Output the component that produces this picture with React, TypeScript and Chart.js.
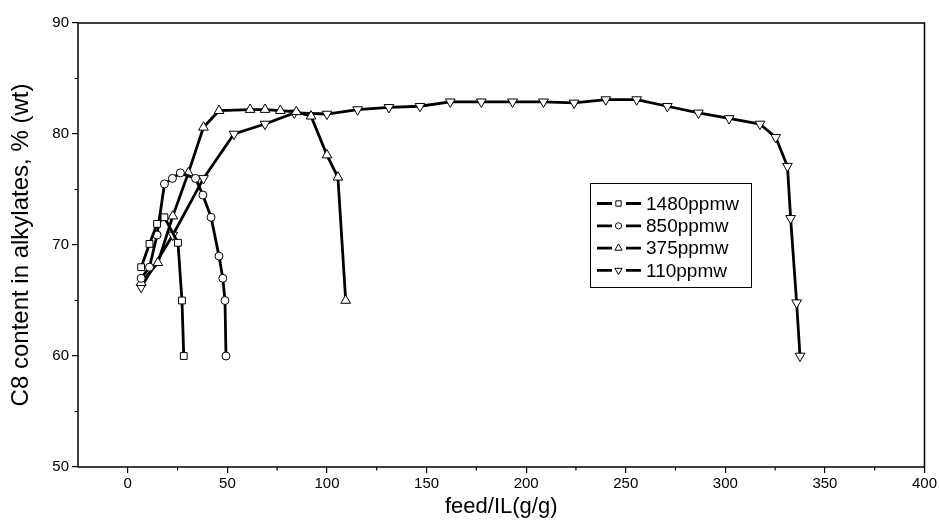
import React, { useEffect, useRef } from "react";
import { Chart, registerables } from "chart.js";

Chart.register(...registerables);

const seriesLabels = ["1480ppmw", "850ppmw", "375ppmw", "110ppmw"];

const x1480 = [6.7, 10.9, 14.7, 18.4, 25.2, 27.2, 28.1];
const y1480 = [68.0, 70.1, 71.9, 72.5, 70.2, 65.0, 60.0];

const x850 = [6.7, 10.9, 14.7, 18.4, 22.4, 26.4, 34.0, 37.7, 41.8, 45.8, 47.7, 48.8, 49.3];
const y850 = [67.0, 68.0, 70.9, 75.5, 76.0, 76.5, 76.0, 74.5, 72.5, 69.0, 67.0, 65.0, 60.0];

const x375 = [6.7, 15.1, 22.6, 30.4, 38.0, 45.8, 61.4, 68.9, 76.6, 84.6, 92.0, 100.0, 105.5, 109.4];
const y375 = [66.6, 68.4, 72.6, 76.5, 80.6, 82.1, 82.2, 82.2, 82.1, 82.0, 81.6, 78.1, 76.1, 65.0];

const x110 = [6.7, 22.6, 38.0, 53.3, 68.9, 83.6, 100.0, 115.4, 131.1, 146.7, 161.9, 177.5, 193.2, 208.7, 224.1, 240.0, 255.5, 270.9, 286.5, 301.9, 317.4, 325.3, 331.2, 332.8, 335.8, 337.5];
const y110 = [66.2, 70.9, 76.0, 80.0, 80.9, 81.9, 81.8, 82.2, 82.4, 82.5, 82.9, 82.9, 82.9, 82.9, 82.8, 83.1, 83.1, 82.5, 81.9, 81.4, 80.9, 79.7, 77.1, 72.4, 64.8, 60.0];

const xMajorTicks = [0, 50, 100, 150, 200, 250, 300, 350, 400];
const xMinorTicks = [25, 75, 125, 175, 225, 275, 325, 375];
const yMajorTicks = [50, 60, 70, 80, 90];
const yMinorTicks = [55, 65, 75, 85];

const xTitle = "feed/IL(g/g)";
const yTitle = "C8 content in alkylates, % (wt)";

const FONT = "'Liberation Sans', Arial, sans-serif";

const pts = (xs: number[], ys: number[]) => xs.map((x, i) => ({ x, y: ys[i] }));

const styles = [
  { pointStyle: "rect", rotation: 0, radius: 4.8, legendRadius: 3.8 },
  { pointStyle: "circle", rotation: 0, radius: 4, legendRadius: 3.1 },
  { pointStyle: "triangle", rotation: 0, radius: 5.6, legendRadius: 4.2 },
  { pointStyle: "triangle", rotation: 180, radius: 5.6, legendRadius: 4.2 },
];

function drawMarker(ctx: CanvasRenderingContext2D, style: string, rotation: number, r: number, x: number, y: number) {
  ctx.save();
  ctx.translate(x, y);
  ctx.rotate((rotation * Math.PI) / 180);
  ctx.beginPath();
  if (style === "rect") {
    const s = r / Math.SQRT2;
    ctx.rect(-s, -s, 2 * s, 2 * s);
  } else if (style === "circle") {
    ctx.arc(0, 0, r, 0, Math.PI * 2);
  } else {
    ctx.moveTo(0, -r);
    ctx.lineTo(r * 0.866, r * 0.5);
    ctx.lineTo(-r * 0.866, r * 0.5);
    ctx.closePath();
  }
  ctx.fillStyle = "#fff";
  ctx.fill();
  ctx.strokeStyle = "#000";
  ctx.lineWidth = 1;
  ctx.stroke();
  ctx.restore();
}

const framePlugin = {
  id: "frameAndMinor",
  afterDraw(chart: any) {
    const { ctx, chartArea, scales } = chart;
    ctx.save();
    ctx.strokeStyle = "#000";
    ctx.lineWidth = 1.5;
    ctx.strokeRect(chartArea.left, chartArea.top, chartArea.right - chartArea.left, chartArea.bottom - chartArea.top);
    ctx.lineWidth = 1.2;
    ctx.beginPath();
    for (const v of xMinorTicks) {
      const px = scales.x.getPixelForValue(v);
      ctx.moveTo(px, chartArea.bottom);
      ctx.lineTo(px, chartArea.bottom + 3.5);
    }
    for (const v of yMinorTicks) {
      const py = scales.y.getPixelForValue(v);
      ctx.moveTo(chartArea.left, py);
      ctx.lineTo(chartArea.left - 3.5, py);
    }
    ctx.stroke();

    // legend box
    const bx = 590, by = 183, bw = 161, bh = 104;
    ctx.fillStyle = "#fff";
    ctx.fillRect(bx, by, bw, bh);
    ctx.lineWidth = 1;
    ctx.strokeStyle = "#000";
    ctx.strokeRect(bx + 0.5, by + 0.5, bw, bh);
    ctx.font = `19px ${FONT}`;
    ctx.textBaseline = "middle";
    ctx.textAlign = "left";
    seriesLabels.forEach((lab, i) => {
      const cy = by + 20.5 + i * 22.3;
      ctx.strokeStyle = "#000";
      ctx.lineWidth = 2.8;
      ctx.beginPath();
      ctx.moveTo(597, cy);
      ctx.lineTo(612, cy);
      ctx.moveTo(626, cy);
      ctx.lineTo(641, cy);
      ctx.stroke();
      const s = styles[i];
      drawMarker(ctx, s.pointStyle, s.rotation, s.legendRadius, 618.5, cy);
      ctx.fillStyle = "#000";
      ctx.fillText(lab, 646, cy + 1);
    });
    ctx.restore();
  },
};

export default function App() {
  const ref = useRef<HTMLCanvasElement | null>(null);
  useEffect(() => {
    document.body.style.margin = "0";
    const canvas = ref.current!;
    const allX = [x1480, x850, x375, x110];
    const allY = [y1480, y850, y375, y110];
    const chart = new Chart(canvas, {
      type: "scatter",
      data: {
        datasets: seriesLabels.map((label, i) => ({
          label,
          data: pts(allX[i], allY[i]),
          showLine: true,
          borderColor: "#000",
          borderWidth: 2.8,
          backgroundColor: "#fff",
          pointBackgroundColor: "#fff",
          pointBorderColor: "#000",
          pointBorderWidth: 1,
          pointStyle: styles[i].pointStyle as any,
          rotation: styles[i].rotation,
          pointRadius: styles[i].radius,
          pointHoverRadius: styles[i].radius,
          tension: 0,
        })),
      },
      options: {
        animation: false,
        responsive: false,
        maintainAspectRatio: false,
        devicePixelRatio: 1,
        layout: { padding: { left: 0, right: 13, top: 23, bottom: 0 } },
        plugins: { legend: { display: false }, tooltip: { enabled: false } },
        scales: {
          x: {
            type: "linear",
            min: -25,
            max: 400,
            afterBuildTicks: (s: any) => {
              s.ticks = xMajorTicks.map((v) => ({ value: v }));
            },
            afterFit: (s: any) => {
              s.height = 62;
            },
            ticks: { color: "#000", font: { family: FONT, size: 15 }, padding: 2, maxRotation: 0, autoSkip: false },
            grid: { display: true, drawOnChartArea: false, drawTicks: true, tickLength: 6, color: "#000", lineWidth: 1.2 },
            border: { display: false },
            title: { display: true, text: xTitle, color: "#000", font: { family: FONT, size: 22 }, padding: { top: 0, bottom: 9 } },
          },
          y: {
            type: "linear",
            min: 50,
            max: 90,
            afterBuildTicks: (s: any) => {
              s.ticks = yMajorTicks.map((v) => ({ value: v }));
            },
            afterFit: (s: any) => {
              s.width = 78;
            },
            ticks: { color: "#000", font: { family: FONT, size: 15 }, padding: 3, autoSkip: false },
            grid: { display: true, drawOnChartArea: false, drawTicks: true, tickLength: 6, color: "#000", lineWidth: 1.2 },
            border: { display: false },
            title: { display: true, text: yTitle, color: "#000", font: { family: FONT, size: 24 }, padding: { top: 7, bottom: 0 } },
          },
        },
      },
      plugins: [framePlugin],
    });
    return () => chart.destroy();
  }, []);
  return <canvas ref={ref} width={939} height={529} style={{ display: "block", width: 939, height: 529 }} />;
}
